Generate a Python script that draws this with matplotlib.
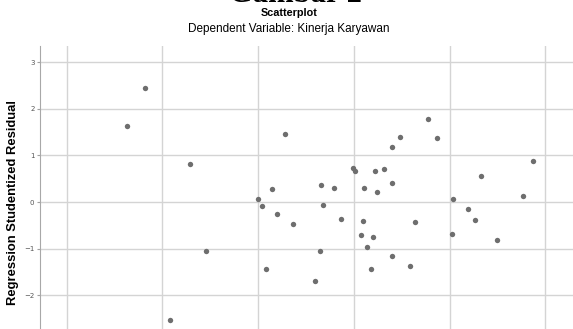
import matplotlib
matplotlib.use("Agg")
import matplotlib.pyplot as plt

# standardized predicted value (x) vs studentized residual (y)
pred = [-1.178, -1.375, 0.278, -0.710, 0.658, 0.146, 0.790, 0.000, 0.042, 0.679,
        0.198, 0.866, 0.364, -0.548, 0.641, 0.086, 0.596, -0.918,
        1.770, 1.483, 1.874, 1.396, 2.876, 0.988, 1.011, 1.219, 1.317, 2.325,
        1.109, 1.400, 1.240, 2.765, 2.034, 2.196, 2.266, 1.099, 1.635, 2.030,
        1.074, 1.199, 2.495, 1.133, 1.403, 1.587, 1.178]
resid = [2.453, 1.625, 1.466, 0.813, 0.377, 0.290, 0.296, 0.057, -0.087, -0.065,
         -0.261, -0.357, -0.466, -1.061, -1.061, -1.438, -1.686, -2.536,
         1.778, 1.394, 1.379, 1.176, 0.885, 0.741, 0.660, 0.660, 0.704, 0.558,
         0.312, 0.420, 0.218, 0.137, 0.057, -0.139, -0.386, -0.407, -0.429, -0.684,
         -0.712, -0.749, -0.815, -0.967, -1.148, -1.373, -1.438]
xgrid = [-2, -1, 0, 1, 2, 3]
yticks = [-2, -1, 0, 1, 2, 3]

W, H = 573, 329
fig = plt.figure(figsize=(W / 100, H / 100), dpi=100)
# axes run past the bottom edge of the figure (the source image is cropped)
ax = fig.add_axes([40 / W, -31 / H, 1 - 40 / W + 0.01, (360 - 46) / H])

ax.scatter(pred, resid, s=15, color="#6e6e6e", zorder=3, linewidths=0)

ax.set_xlim(-2.28, 3.35)
ax.set_ylim(-3.39, 3.35)
ax.set_xticks(xgrid)
ax.set_yticks(yticks)
ax.grid(True, color="#d4d4d4", linewidth=1)
ax.tick_params(axis="x", length=0, labelbottom=False)
ax.tick_params(axis="y", length=2, color="#a0a0a0", labelsize=5, labelcolor="#555555", pad=2)
for s in ["top", "right", "bottom"]:
    ax.spines[s].set_visible(False)
ax.spines["left"].set_color("#a8a8a8")

fig.text(13 / W, 1 - 203 / H, "Regression Studentized Residual", rotation=90,
         ha="center", va="center", fontsize=9.4, fontweight="bold",
         family=["Liberation Sans", "DejaVu Sans"])
fig.text(289 / W, 1 - 13 / H, "Scatterplot", ha="center", va="center",
         fontsize=7.8, fontweight="bold", family=["Liberation Sans Narrow", "Liberation Sans"])
fig.text(289 / W, 1 - 29 / H, "Dependent Variable: Kinerja Karyawan", ha="center",
         va="center", fontsize=8.5, family=["Liberation Sans Narrow", "Liberation Sans"])
fig.text(295 / W, 1 - 1.5 / H, "Gambar 2", ha="center", va="baseline",
         fontsize=22, fontweight="bold", family=["Liberation Serif", "DejaVu Serif"])

fig.savefig("out.png", dpi=100)
